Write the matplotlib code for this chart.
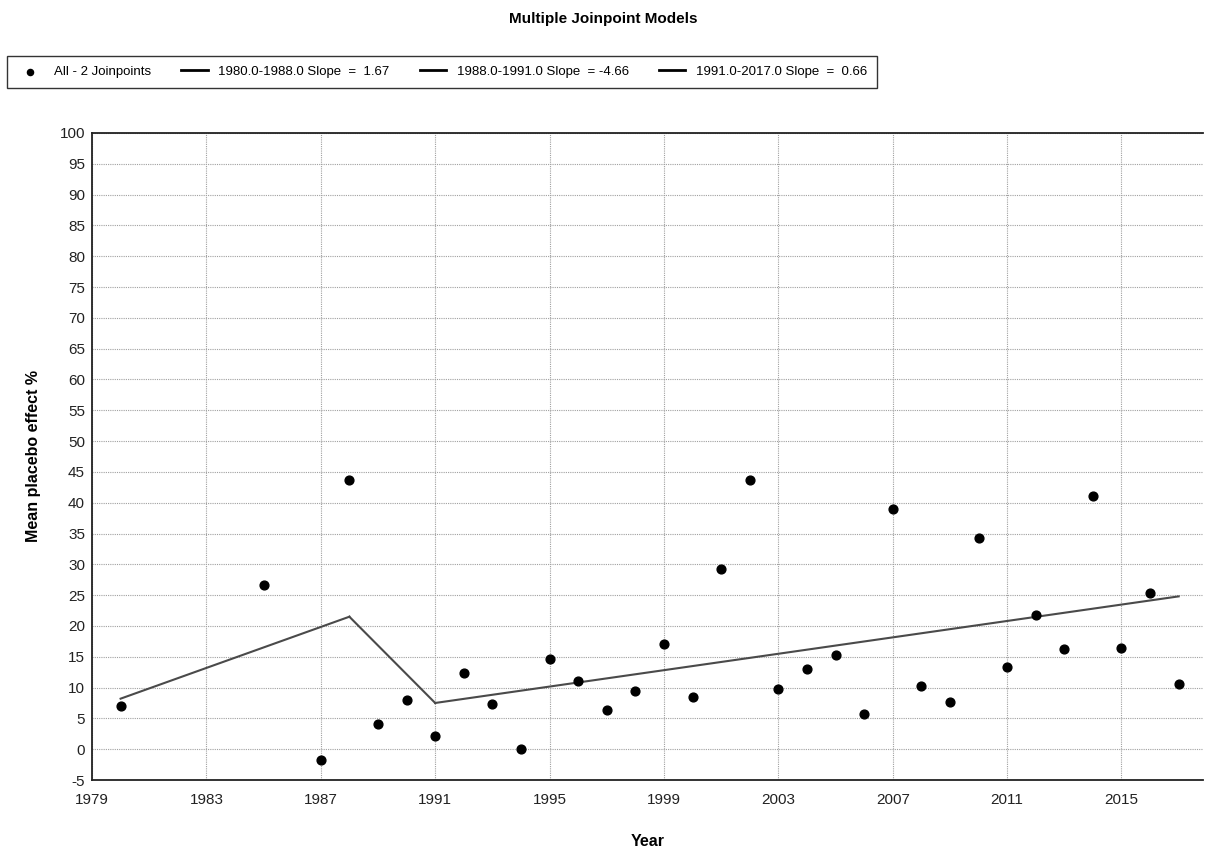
import matplotlib
matplotlib.use("Agg")
import matplotlib.pyplot as plt
import numpy as np

# observed yearly values
years = [1980, 1985, 1987, 1988, 1989, 1990, 1991, 1992, 1993, 1994,
         1995, 1996, 1997, 1998, 1999, 2000, 2001, 2002, 2003, 2004,
         2005, 2006, 2007, 2008, 2009, 2010, 2011, 2012, 2013, 2014,
         2015, 2016, 2017]
placebo = [7.0, 26.7, -1.8, 43.7, 4.1, 8.0, 2.1, 12.4, 7.3, 0.0,
           14.6, 11.0, 6.3, 9.5, 17.1, 8.5, 29.3, 43.7, 9.8, 13.0,
           15.3, 5.7, 39.0, 10.2, 7.6, 34.3, 13.4, 21.7, 16.2, 41.1,
           16.5, 25.4, 10.5]

# fitted joinpoint model
joint_years = [1980, 1988, 1991, 2017]
joint_fit = [8.2, 21.5, 7.5, 24.8]
seg_labels = ["1980.0-1988.0 Slope  =  1.67",
              "1988.0-1991.0 Slope  = -4.66",
              "1991.0-2017.0 Slope  =  0.66"]

xticks = list(range(1979, 2016, 4))
yticks = list(range(-5, 101, 5))

plt.rcParams["font.family"] = ["Liberation Sans", "DejaVu Sans"]
plt.rcParams["axes.unicode_minus"] = False

fig = plt.figure(figsize=(12.06, 8.52), dpi=100)
fig.patch.set_facecolor("white")
ax = fig.add_axes([92 / 1206, 72 / 852, 1111 / 1206, 647 / 852])

ax.scatter(years, placebo, s=40, color="black", zorder=4,
           label="All - 2 Joinpoints")
for i, lab in enumerate(seg_labels):
    ax.plot(joint_years[i:i + 2], joint_fit[i:i + 2], color="#4a4a4a",
            linewidth=1.5, zorder=3, label=lab)

ax.set_xlim(1979, 2017.85)
ax.set_ylim(-5, 100)
ax.set_xticks(xticks)
ax.set_yticks(yticks)
ax.grid(True, color="#a0a0a0", linestyle=(0, (1, 1)), linewidth=0.8, zorder=0)
ax.tick_params(length=0, labelsize=11, pad=5, colors="#222222")
ax.tick_params(axis="x", pad=9)
for side in ("left", "bottom", "top"):
    ax.spines[side].set_color("#222222")
    ax.spines[side].set_linewidth(1.3)
ax.spines["right"].set_visible(False)

ax.set_xlabel("Year", fontsize=11.5, fontweight="bold", labelpad=20)
ax.set_ylabel("Mean placebo effect %", fontsize=11.5, fontweight="bold",
              labelpad=13)

fig.suptitle("Multiple Joinpoint Models", x=0.5, y=0.986, fontsize=11,
             fontweight="bold")

handles, labels = ax.get_legend_handles_labels()
leg = fig.legend(handles, labels, ncol=4, loc="center left",
                 bbox_to_anchor=(7 / 1206, 1 - 88 / 852, 870 / 1206, 32 / 852),
                 mode="expand", fontsize=9.5, frameon=True, fancybox=False,
                 handlelength=2.0, handletextpad=0.8, borderaxespad=0,
                 borderpad=0.75, markerscale=0.7)
leg.get_frame().set_edgecolor("black")
leg.get_frame().set_linewidth(1.0)
for h in leg.legend_handles[1:]:
    h.set_color("black")
    h.set_linewidth(2.0)

fig.savefig("out.png", dpi=100, facecolor="white")
